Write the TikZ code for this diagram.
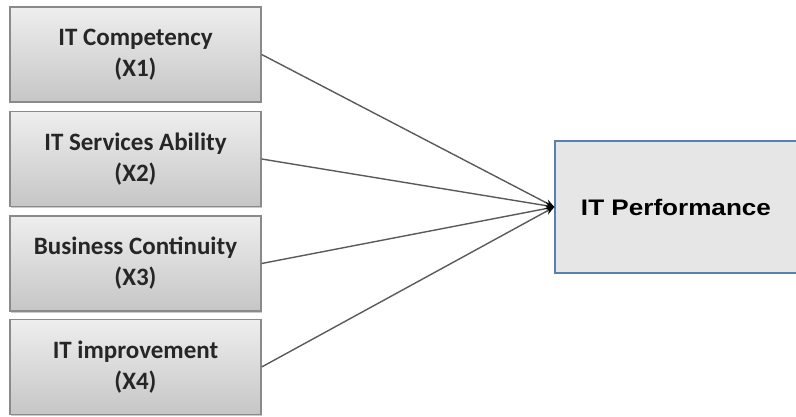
\documentclass[tikz,border=0pt]{standalone}
\usepackage{fontspec}
\setmainfont{Carlito}
\newfontfamily\arialfont{Liberation Sans}
\usetikzlibrary{arrows.meta,shadows}
\definecolor{boxtop}{HTML}{EEEEEE}
\definecolor{boxbot}{HTML}{C6C6C6}
\definecolor{boxline}{HTML}{8A8A8A}
\definecolor{perffill}{HTML}{E6E6E6}
\definecolor{perfline}{HTML}{5A80AE}
\definecolor{linkcol}{HTML}{5A5A5A}
\definecolor{txtcol}{HTML}{262626}
\tikzset{
  xbox/.style={draw=boxline, line width=1.3pt, top color=boxtop, bottom color=boxbot,
    minimum width=251pt, minimum height=95pt, inner sep=0pt, align=center,
    font=\fontsize{25}{31}\selectfont\bfseries, text=txtcol,
    drop shadow={shadow xshift=1.2pt, shadow yshift=-1.5pt, fill=black!35, opacity=0.6}},
  perfbox/.style={draw=perfline, line width=1.3pt, fill=perffill,
    minimum width=244pt, minimum height=132pt, inner sep=0pt,
    font=\arialfont\fontsize{22.5}{26}\selectfont\bfseries},
  link/.style={draw=linkcol, line width=1.4pt, -{Stealth[length=9pt,width=7pt,black]}}
}
\begin{document}
\begin{tikzpicture}[x=1pt,y=1pt]
\useasboundingbox (0,0) rectangle (796,-417);
\node[xbox] (x1) at (135.5,-54.5) {IT Competency\\(X1)};
\node[xbox] (x2) at (135.5,-159) {IT Services Ability\\(X2)};
\node[xbox] (x3) at (135.5,-263.5) {Business Continuity\\(X3)};
\node[xbox] (x4) at (135.5,-367) {IT improvement\\(X4)};
\node[perfbox] (y) at (677,-207) {\scalebox{1.16}[1]{IT Performance}\hspace*{2pt}};
\coordinate (tip) at (y.west);
\draw[link] (x1.east) -- (tip);
\draw[link] (x2.east) -- (tip);
\draw[link] (x3.east) -- (tip);
\draw[link] (x4.east) -- (tip);
\end{tikzpicture}
\end{document}
